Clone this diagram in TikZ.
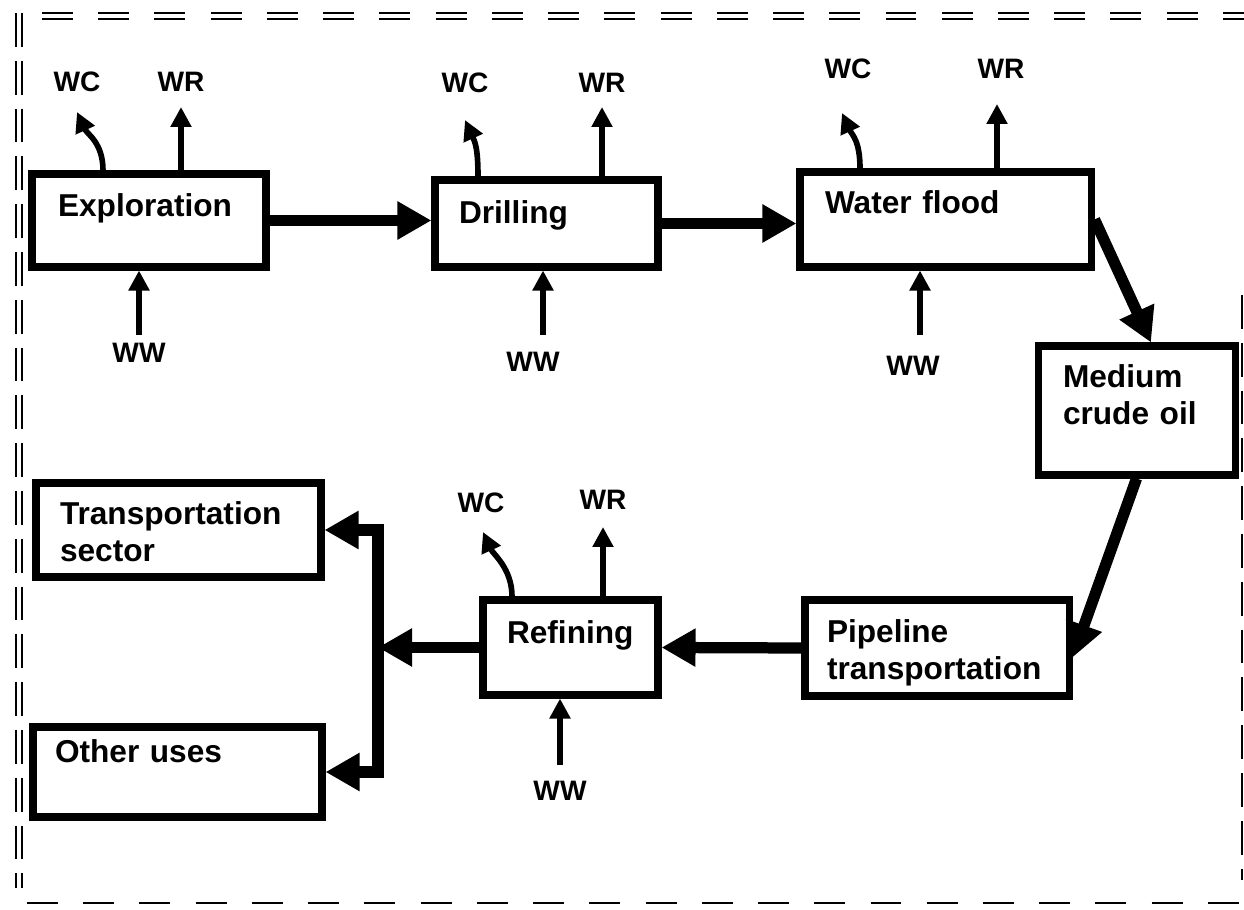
\documentclass[tikz,border=0pt]{standalone}
\usepackage{fontspec}
\setmainfont{Liberation Sans}
\usetikzlibrary{arrows.meta,positioning,calc}

\begin{document}
\begin{tikzpicture}[
    box/.style={rectangle, draw, line width=5pt, align=left, inner sep=0pt, text height=0pt, font=\bfseries\fontsize{22.5}{26}\selectfont},
    lbl/.style={font=\bfseries\fontsize{20}{24}\selectfont, inner sep=0pt},
    flow/.style={line width=8pt, -{Triangle[length=0.85cm,width=0.9cm]}},
    side/.style={line width=4pt, -{Triangle[length=0.5cm,width=0.5cm]}},
    frame/.style={line width=1.5pt, double, double distance=2.5pt}
]
    \useasboundingbox (0,0) rectangle (31.1,22.725);

    % Frame
    \draw[frame, dash pattern=on 22pt off 18pt] (1.05,22.325) -- (31.1,22.325);
    \draw[frame, dash pattern=on 24pt off 10pt] (0.475,22.4) -- (0.475,0.525);
    \draw[line width=1.5pt, dash pattern=on 22pt off 18pt] (0.675,0.15) -- (31.0,0.15);
    \draw[line width=1.5pt, dash pattern=on 24pt off 10pt] (31.05,15.35) -- (31.05,0.725);

    % Stages
    \node[box, minimum width=5.85cm, minimum height=2.325cm, text width=4.55cm, text depth=0.18cm] (expl) at (3.725,17.2125) {Exploration};
    \node[box, minimum width=5.575cm, minimum height=2.175cm, text width=4.375cm, text depth=0cm] (drill) at (13.6625,17.1375) {Drilling};
    \node[box, minimum width=7.275cm, minimum height=2.375cm, text width=6.025cm, text depth=0.32cm] (flood) at (23.6375,17.2375) {Water flood};
    \node[box, minimum width=4.925cm, minimum height=3.225cm, text width=3.675cm, text depth=1.125cm] (crude) at (28.4125,12.4625) {Medium\\crude oil};
    \node[box, minimum width=6.6cm, minimum height=2.4cm, text width=5.5cm, text depth=0.25cm] (pipe) at (23.425,6.525) {Pipeline\\transportation};
    \node[box, minimum width=4.375cm, minimum height=2.375cm, text width=3.175cm, text depth=0.175cm] (ref) at (14.2625,6.5375) {Refining};
    \node[box, minimum width=7.125cm, minimum height=2.35cm, text width=5.925cm, text depth=0.25cm] (trans) at (4.4625,9.475) {Transportation\\sector};
    \node[box, minimum width=7.225cm, minimum height=2.25cm, text width=6.125cm, text depth=0.45cm] (other) at (4.4375,3.425) {Other uses};

    % Main flow
    \draw[flow] (expl.east) -- (expl.east -| drill.west);
    \draw[flow] (drill.east) -- (drill.east -| flood.west);
    \draw[flow] (flood.east) -- (crude.78);
    \draw[flow] (crude.south) -- (pipe.-4);
    \draw[flow] (pipe.west) -- (ref.east);
    \coordinate (tk) at (9.45,6.5375);
    \draw[flow] (ref.west) -- (tk);
    \draw[flow, {Triangle[length=0.85cm,width=0.9cm]}-{Triangle[length=0.85cm,width=0.9cm]}] (trans.east) -| (tk) |- (other.east);

    % Water flows: Exploration
    \coordinate (wc1t) at (1.925,19.925);
    \coordinate (wr1t) at (4.525,20.05);
    \coordinate (ww1t) at (3.475,14.35);
    \node[lbl, above=0.5cm of wc1t] (wc1) {WC};
    \node[lbl, above=0.375cm of wr1t] (wr1) {WR};
    \node[lbl, below=0.2cm of ww1t] (ww1) {WW};
    \draw[side] ($(expl.north)+(-1.15,0)$) .. controls +(0,0.7) and +(0.25,-0.55) .. (wc1t);
    \draw[side] (wr1t |- expl.north) -- (wr1t);
    \draw[side] (ww1t) -- (ww1t |- expl.south);

    % Water flows: Drilling
    \coordinate (wc2t) at (11.625,19.725);
    \coordinate (wr2t) at (15.05,20.05);
    \coordinate (ww2t) at (13.575,14.35);
    \node[lbl, above=0.675cm of wc2t] (wc2) {WC};
    \node[lbl, above=0.35cm of wr2t] (wr2) {WR};
    \node[lbl, below=0.425cm of ww2t, xshift=-0.25cm] (ww2) {WW};
    \draw[side] ($(drill.north)+(-1.7125,0)$) .. controls +(0,0.7) and +(0.25,-0.55) .. (wc2t);
    \draw[side] (wr2t |- drill.north) -- (wr2t);
    \draw[side] (ww2t) -- (ww2t |- drill.south);

    % Water flows: Water flood
    \coordinate (wc3t) at (21.05,19.9);
    \coordinate (wr3t) at (24.925,20.125);
    \coordinate (ww3t) at (23.0,14.35);
    \node[lbl, above=0.85cm of wc3t, xshift=0.15cm] (wc3) {WC};
    \node[lbl, above=0.625cm of wr3t, xshift=0.1cm] (wr3) {WR};
    \node[lbl, below=0.525cm of ww3t, xshift=-0.175cm] (ww3) {WW};
    \draw[side] ($(flood.north)+(-2.1375,0)$) .. controls +(0,0.7) and +(0.25,-0.55) .. (wc3t);
    \draw[side] (wr3t |- flood.north) -- (wr3t);
    \draw[side] (ww3t) -- (ww3t |- flood.south);

    % Water flows: Refining
    \coordinate (wc4t) at (12.075,9.425);
    \coordinate (wr4t) at (15.075,9.55);
    \coordinate (ww4t) at (14.0,3.6);
    \node[lbl, above=0.475cm of wc4t, xshift=-0.05cm] (wc4) {WC};
    \node[lbl, above=0.425cm of wr4t] (wr4) {WR};
    \node[lbl, below=0.4cm of ww4t] (ww4) {WW};
    \draw[side] ($(ref.north)+(-1.4625,0)$) .. controls +(0,0.7) and +(0.25,-0.55) .. (wc4t);
    \draw[side] (wr4t |- ref.north) -- (wr4t);
    \draw[side] (ww4t) -- (ww4t |- ref.south);
\end{tikzpicture}
\end{document}
